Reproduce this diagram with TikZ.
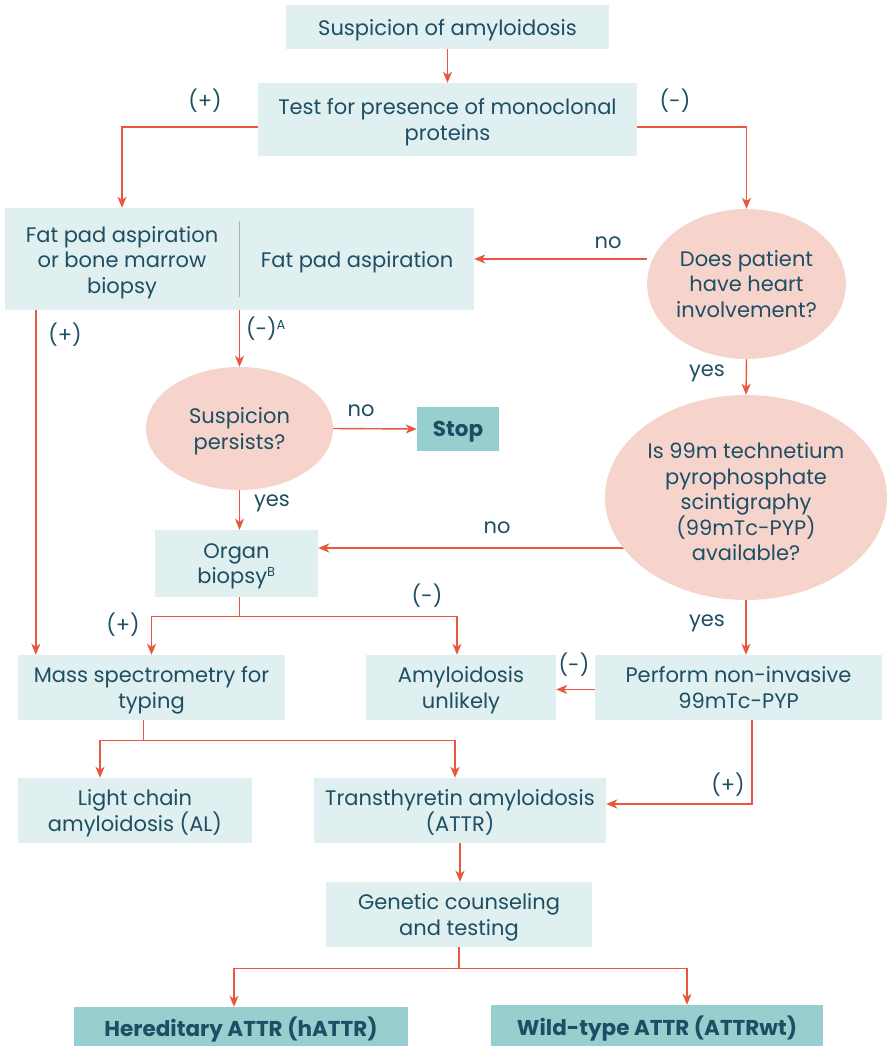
\documentclass[tikz,border=0pt]{standalone}
\usepackage{fontspec}
\setmainfont{Poppins}
\usetikzlibrary{shapes.geometric,arrows.meta,calc,backgrounds}
\definecolor{boxc}{HTML}{E0EFEF}
\definecolor{darkc}{HTML}{97CECE}
\definecolor{pinkc}{HTML}{F6D4CC}
\definecolor{arrc}{HTML}{E8583E}
\definecolor{txtc}{HTML}{1D4E63}
\begin{document}
\begin{tikzpicture}[x=1pt,y=-1pt,
  font=\fontsize{21}{25.5}\selectfont, text=txtc,
  box/.style={fill=boxc,inner sep=0pt,align=center,text depth=0pt},
  dbox/.style={fill=darkc,inner sep=0pt,align=center,text depth=0pt,font=\fontsize{21.5}{22}\selectfont\bfseries},
  ell/.style={ellipse,fill=pinkc,inner sep=0pt,align=center,text depth=0pt},
  lbl/.style={inner sep=0pt},
  arr/.style={draw=arrc,line width=1.4pt,-{Stealth[length=11pt,width=9pt,inset=3pt]}},
  ln/.style={draw=arrc,line width=1.4pt}]
\useasboundingbox (0,0) rectangle (888,1047);
\node[box,minimum width=323,minimum height=44] (s1) at (447.5,27) {Suspicion of amyloidosis};
\node[box,minimum width=379,minimum height=73] (s2) at (447.5,119.5) {Test for presence of monoclonal\\proteins};
\node[box,minimum width=469,minimum height=102] (s3) at (239.5,259) {};
\node[lbl,align=center,text depth=0pt] (s3a) at (122,260) {Fat pad aspiration\\or bone marrow\\biopsy};
\node[lbl,align=center,text depth=0pt] (s3b) at (357,260) {Fat pad aspiration};
\draw[gray!60,line width=1.3pt] ($(s3.north)+(0,13)$) -- ($(s3.south)+(0,-13)$);
\node[ell,minimum width=187,minimum height=150] (e1) at (746.5,284) {Does patient\\have heart\\involvement?};
\node[ell,minimum width=187,minimum height=123] (e2) at (239.5,428.5) {Suspicion\\persists?};
\node[dbox,minimum width=82,minimum height=44] (stop) at (458,429) {Stop};
\node[ell,minimum width=282,minimum height=205] (e3) at (746,497.5) {};
\node[lbl,align=center,text depth=0pt] (e3t) at (746,502) {Is 99m technetium\\pyrophosphate\\scintigraphy\\(99mTc-PYP)\\available?};
\node[box,minimum width=163,minimum height=67] (ob) at (236.5,563.5) {Organ\\biopsy\textsuperscript{\fontsize{13}{13}\selectfont B}};
\node[box,minimum width=267,minimum height=65] (ms) at (151.5,687.5) {Mass spectrometry for\\typing};
\node[box,minimum width=190,minimum height=65] (au) at (461,687.5) {Amyloidosis\\unlikely};
\node[box,minimum width=287,minimum height=65] (pp) at (738.5,687.5) {Perform non-invasive\\99mTc-PYP};
\node[box,minimum width=234,minimum height=65] (lc) at (135,810.5) {Light chain\\amyloidosis (AL)};
\node[box,minimum width=292,minimum height=65] (at) at (460,810.5) {Transthyretin amyloidosis\\(ATTR)};
\node[box,minimum width=266,minimum height=65] (gc) at (459,914.5) {Genetic counseling\\and testing};
\node[dbox,minimum width=334,minimum height=39] (he) at (241,1026.5) {Hereditary ATTR (hATTR)};
\node[dbox,minimum width=332,minimum height=41] (wt) at (657,1025.5) {Wild-type ATTR (ATTRwt)};
% labels
\node[lbl] (l1) at (205,101) {(+)};
\node[lbl] (l2) at (675,101) {(-)};
\node[lbl] (l3) at (608,243) {no};
\node[lbl] (l4) at (65,335) {(+)};
\node[lbl] (l5) at (266,329) {(-)\textsuperscript{\fontsize{13}{13}\selectfont A}};
\node[lbl] (l6) at (361,411) {no};
\node[lbl] (l7) at (272,503) {yes};
\node[lbl] (l8) at (707,373) {yes};
\node[lbl] (l9) at (497,528) {no};
\node[lbl] (l10) at (123,625) {(+)};
\node[lbl] (l11) at (427,596) {(-)};
\node[lbl] (l12) at (707,623) {yes};
\node[lbl] (l13) at (574,665) {(-)};
\node[lbl] (l14) at (728,785) {(+)};
\begin{pgfonlayer}{background}
\draw[arr] (s1) -- (s2);
\draw[arr] ($(s2.west)+(0,7.5)$) -| (s3.north -| s3a);
\draw[arr] ($(s2.east)+(0,7.5)$) -| (e1.north);
\draw[arr] (e1.west |- s3.east) -- (s3.east);
\draw[arr] ($(s3.south west)+(31,0)$) -- ($(ms.north west)+(18,0)$);
\draw[arr] (s3.south -| e2) -- (e2.north);
\draw[arr] (e2.east) -- (stop.west);
\draw[arr] (e2.south) -- (ob.north -| e2);
\draw[arr] (e1.south) -- (e3.north);
\draw[arr] ($(e3.center)+(0,50.5)$) -- ($(ob.east)+(0,-15.5)$);
\draw[ln] (ob.south -| e2) -- ++(0,19) coordinate (j1);
\draw[arr] (j1) -| (ms.north);
\draw[arr] (j1) -| ($(au.north)+(-4,0)$);
\draw[arr] (e3.south) -- (pp.north -| e3);
\draw[arr] ($(pp.west)+(0,2)$) -- ($(au.east)+(0,2)$);
\draw[ln] ($(ms.south)+(-8,0)$) -- ++(0,20) coordinate (j2);
\draw[arr] (j2) -| ($(lc.north)+(-35,0)$);
\draw[arr] (j2) -| ($(at.north)+(-5,0)$);
\draw[arr] ($(pp.south)+(13.5,0)$) |- ($(at.east)+(0,-6.5)$);
\draw[arr] (at.south) -- (gc.north -| at.south);
\draw[ln] (gc.south) -- ++(0,21) coordinate (j3);
\draw[arr] (j3) -| ($(he.north)+(-7,0)$);
\draw[arr] (j3) -| ($(wt.north)+(30,0)$);
\end{pgfonlayer}
\end{tikzpicture}
\end{document}
